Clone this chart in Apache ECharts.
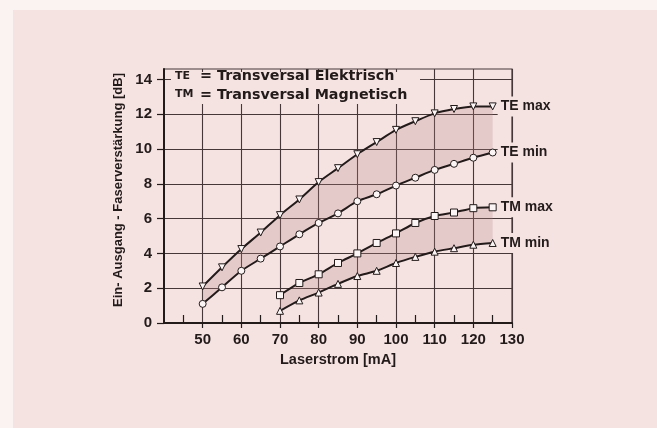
<!DOCTYPE html>
<html>
<head>
<meta charset="utf-8">
<script src="https://cdn.jsdelivr.net/npm/echarts@6/dist/echarts.min.js"></script>
<style>
  html, body { margin: 0; padding: 0; width: 657px; height: 428px; overflow: hidden; background: #fbf3f1; }
  #bg { position: absolute; left: 13px; top: 10px; right: 0; bottom: 0; background: #f5e3e2; }
  #chart { position: absolute; left: 0; top: 0; width: 657px; height: 428px; }
</style>
</head>
<body>
<div id="bg"></div>
<div id="chart"></div>
<script>
// ---- data ----
const xTE = [50, 55, 60, 65, 70, 75, 80, 85, 90, 95, 100, 105, 110, 115, 120, 125];
const teMax = [2.1, 3.2, 4.25, 5.2, 6.2, 7.1, 8.1, 8.9, 9.7, 10.4, 11.1, 11.6, 12.05, 12.3, 12.45, 12.45];
const teMin = [1.1, 2.05, 3.0, 3.7, 4.4, 5.1, 5.75, 6.3, 7.0, 7.4, 7.9, 8.35, 8.8, 9.15, 9.5, 9.8];
const xTM = [70, 75, 80, 85, 90, 95, 100, 105, 110, 115, 120, 125];
const tmMax = [1.6, 2.3, 2.8, 3.45, 4.0, 4.6, 5.15, 5.75, 6.15, 6.35, 6.6, 6.65];
const tmMin = [0.7, 1.3, 1.75, 2.25, 2.7, 3.0, 3.45, 3.8, 4.1, 4.3, 4.5, 4.6];
const xTickLabels = [50, 60, 70, 80, 90, 100, 110, 120, 130];
const yTickLabels = [0, 2, 4, 6, 8, 10, 12, 14];
const seriesNames = ['TE max', 'TE min', 'TM max', 'TM min'];
const xTitle = 'Laserstrom [mA]';
const yTitle = 'Ein- Ausgang - Faserverstärkung [dB]';
const legendLines = [
  ['TE', '= Transversal Elektrisch'],
  ['TM', '= Transversal Magnetisch']
];

// ---- styles ----
const BG = '#f5e3e2';
const INK = '#231a1a';
const GRIDC = '#463838';
const FONT = '"Liberation Sans", Arial, Helvetica, sans-serif';
const WIDE = '"DejaVu Sans", sans-serif';

const chart = echarts.init(document.getElementById('chart'), null, { renderer: 'canvas' });

function pairs(xs, ys) { return xs.map((x, i) => [x, ys[i]]); }

function band(xs, upper, lower) {
  return function (params, api) {
    const pts = [];
    for (let i = 0; i < xs.length; i++) pts.push(api.coord([xs[i], upper[i]]));
    for (let i = xs.length - 1; i >= 0; i--) pts.push(api.coord([xs[i], lower[i]]));
    return {
      type: 'polygon',
      shape: { points: pts },
      style: { fill: 'rgba(185,130,135,0.26)' }
    };
  };
}

function lineSeries(name, xs, ys, symbol, rotate) {
  return {
    name: name,
    type: 'line',
    data: pairs(xs, ys),
    smooth: 0.25,
    symbol: symbol,
    symbolRotate: rotate || 0,
    symbolSize: 7,
    showAllSymbol: true,
    z: 3,
    lineStyle: { color: INK, width: 2 },
    itemStyle: { color: '#fbf6f5', borderColor: INK, borderWidth: 1 },
    endLabel: {
      show: true,
      formatter: name,
      distance: 5,
      color: INK,
      fontFamily: FONT,
      fontWeight: 'bold',
      fontSize: 14,
      backgroundColor: BG,
      padding: [3, 3, 3, 3]
    },
    emphasis: { disabled: true },
    animation: false
  };
}

const option = {
  animation: false,
  grid: {
    left: 164, right: 145, top: 69, bottom: 105,
    show: true, borderColor: GRIDC, borderWidth: 1.2, backgroundColor: 'transparent'
  },
  xAxis: {
    type: 'value', min: 40, max: 130, interval: 10,
    name: xTitle, nameLocation: 'middle', nameGap: 29,
    nameTextStyle: { color: INK, fontFamily: FONT, fontWeight: 'bold', fontSize: 14.5 },
    axisLine: { show: true, lineStyle: { color: INK, width: 2 } },
    axisTick: { show: true, length: 5, customValues: xTickLabels, lineStyle: { color: INK, width: 1.2 } },
    minorTick: { show: true, splitNumber: 2, length: -8, lineStyle: { color: INK, width: 1.2 } },
    axisLabel: { customValues: xTickLabels, margin: 9, color: INK, fontFamily: FONT, fontWeight: 'bold', fontSize: 15 },
    splitLine: { show: true, lineStyle: { color: GRIDC, width: 1.1 } }
  },
  yAxis: {
    type: 'value', min: 0, max: 14.6, interval: 1,
    axisLine: { show: true, lineStyle: { color: INK, width: 2 } },
    axisTick: { show: true, length: 7, customValues: yTickLabels, lineStyle: { color: INK, width: 1.2 } },
    axisLabel: { customValues: yTickLabels, margin: 12, color: INK, fontFamily: FONT, fontWeight: 'bold', fontSize: 15 },
    splitLine: { show: true, lineStyle: { color: GRIDC, width: 1.1 } }
  },
  series: [
    { type: 'custom', renderItem: band(xTE, teMax, teMin), data: [[xTE[0], teMin[0]]], z: 1, silent: true, animation: false },
    { type: 'custom', renderItem: band(xTM, tmMax, tmMin), data: [[xTM[0], tmMin[0]]], z: 1, silent: true, animation: false },
    lineSeries(seriesNames[0], xTE, teMax, 'triangle', 180),
    lineSeries(seriesNames[1], xTE, teMin, 'circle'),
    lineSeries(seriesNames[2], xTM, tmMax, 'rect'),
    lineSeries(seriesNames[3], xTM, tmMin, 'triangle')
  ],
  graphic: {
    zlevel: 1,
    elements: [
      { type: 'rect', zlevel: 1, z: 100, shape: { x: 171, y: 72, width: 249, height: 15 }, style: { fill: BG } },
      { type: 'rect', zlevel: 1, z: 100, shape: { x: 171, y: 87, width: 242, height: 17 }, style: { fill: BG } },
      { type: 'text', zlevel: 1, z: 101, x: 175, y: 76.5, style: { text: legendLines[0][0], fill: INK, font: 'bold 11px ' + WIDE, verticalAlign: 'middle' } },
      { type: 'text', zlevel: 1, z: 101, x: 200, y: 76, style: { text: legendLines[0][1], fill: INK, font: 'bold 14.3px ' + WIDE, verticalAlign: 'middle' } },
      { type: 'text', zlevel: 1, z: 101, x: 175, y: 94.5, style: { text: legendLines[1][0], fill: INK, font: 'bold 11px ' + WIDE, verticalAlign: 'middle' } },
      { type: 'text', zlevel: 1, z: 101, x: 200, y: 95, style: { text: legendLines[1][1], fill: INK, font: 'bold 14.3px ' + WIDE, verticalAlign: 'middle' } },
      { type: 'text', zlevel: 1, z: 101, x: 118, y: 190, rotation: Math.PI / 2,
        style: { text: yTitle, fill: INK, font: 'bold 13px ' + FONT, align: 'center', verticalAlign: 'middle' } }
    ]
  }
};
chart.setOption(option);
</script>
</body>
</html>
